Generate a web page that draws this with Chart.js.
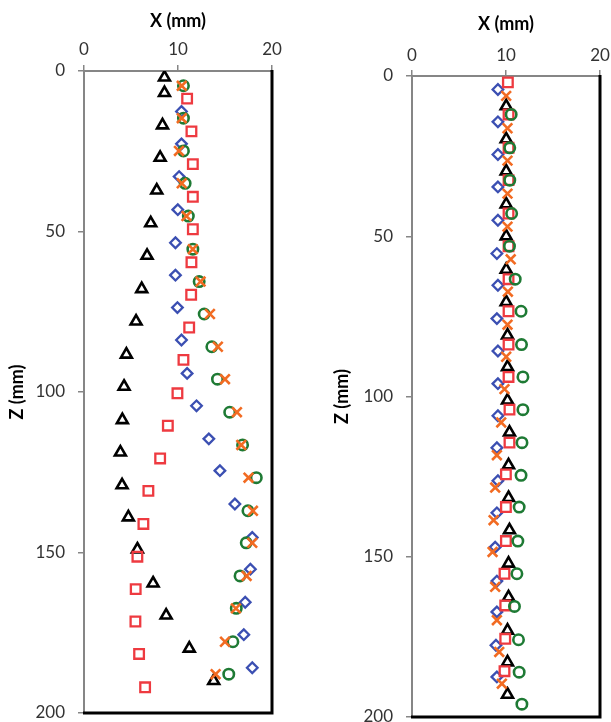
<!DOCTYPE html>
<html>
<head>
<meta charset="utf-8">
<script src="https://cdn.jsdelivr.net/npm/chart.js@4/dist/chart.umd.min.js"></script>
<style>
  html, body { margin: 0; padding: 0; background: #ffffff; overflow: hidden; }
  .panel { position: absolute; top: 0; height: 722px; }
  #leftWrap { left: 0; width: 300px; }
  #rightWrap { left: 320px; width: 291px; }
</style>
</head>
<body>
<div id="leftWrap" class="panel"><canvas id="leftChart"></canvas></div>
<div id="rightWrap" class="panel"><canvas id="rightChart"></canvas></div>
<script>
// ---------- Axis ticks ----------
const xTicks = [0, 10, 20];
const zTicks = [0, 50, 100, 150, 200];
const xTitle = 'X (mm)';
const zTitle = 'Z (mm)';

// ---------- Left panel data (X values, Z depths) ----------
const leftTriZ = [2, 6.8, 16.9, 27, 37.2, 47.4, 57.5, 67.9, 78, 88.3, 98.3, 108.7, 118.8, 129, 139, 149, 159.6, 169.6, 179.9, 190];
const leftTriX = [8.56, 8.56, 8.35, 8.1, 7.74, 7.1, 6.71, 6.14, 5.54, 4.51, 4.26, 4.08, 3.87, 4.05, 4.72, 5.68, 7.35, 8.74, 11.2, 13.8];

const leftDiaZ = [12.6, 22.7, 32.9, 43.2, 53.5, 63.6, 73.7, 83.8, 94.2, 104.3, 114.6, 124.5, 134.9, 145.3, 155.2, 165.5, 175.6, 185.9];
const leftDiaX = [10.37, 10.37, 10.12, 9.98, 9.73, 9.73, 9.94, 10.37, 10.97, 11.97, 13.28, 14.46, 16.05, 17.9, 17.7, 17.15, 17.0, 17.9];

const leftCirZ = [4.6, 14.7, 24.9, 35, 45.2, 55.5, 65.6, 75.7, 85.9, 96, 106.3, 116.5, 126.7, 137, 147, 157.3, 167.4, 177.8, 187.9];
const leftCirX = [10.58, 10.58, 10.58, 10.76, 11.1, 11.58, 12.25, 12.79, 13.6, 14.2, 15.5, 16.87, 18.33, 17.44, 17.26, 16.6, 16.2, 15.84, 15.4];

const leftCroZ = [4.6, 14.7, 24.9, 35, 45.2, 55.5, 65.6, 75.7, 85.9, 96, 106.3, 116.5, 126.7, 137, 147, 157.3, 167.4, 177.8, 187.9];
const leftCroX = [10.4, 10.4, 10.1, 10.4, 10.9, 11.58, 12.4, 13.4, 14.24, 15.0, 16.27, 16.73, 17.5, 17.97, 17.9, 17.3, 16.16, 15.0, 14.0];

const leftSqZ = [8.6, 18.8, 29, 39.2, 49.3, 59.6, 69.7, 79.9, 90, 100.4, 110.5, 120.7, 130.8, 141.1, 151.3, 161.4, 171.5, 181.6, 192];
const leftSqX = [10.97, 11.43, 11.58, 11.58, 11.58, 11.43, 11.4, 11.19, 10.58, 9.94, 8.92, 8.1, 6.85, 6.32, 5.68, 5.5, 5.47, 5.86, 6.5];

// ---------- Right panel data ----------
const rightSqZ = [2, 12, 22.4, 32.5, 42.9, 53.1, 63.4, 73.4, 83.8, 93.9, 104.1, 114.4, 124.3, 134.5, 145.1, 155.3, 165.2, 175.6, 185.7];
const rightSqX = [10.2, 10.27, 10.27, 10.27, 10.27, 10.27, 10.27, 10.27, 10.27, 10.27, 10.37, 10.37, 9.99, 9.99, 9.99, 9.84, 9.92, 9.92, 9.84];

const rightCirZ = [12, 22.4, 32.5, 42.9, 53.1, 63.4, 73.4, 83.8, 93.9, 104.1, 114.4, 124.6, 134.5, 145.1, 155.3, 165.5, 175.9, 186, 196];
const rightCirX = [10.55, 10.4, 10.4, 10.6, 10.37, 10.98, 11.6, 11.65, 11.8, 11.8, 11.7, 11.6, 11.4, 11.26, 11.16, 10.9, 11.33, 11.4, 11.69];

const rightDiaZ = [4.2, 14.3, 24.5, 34.6, 45, 55.4, 65.3, 75.7, 85.8, 96, 106, 116, 126.3, 136.3, 147, 157.6, 167.2, 177.6, 187.5];
const rightDiaX = [9.14, 9.14, 9.14, 9.14, 9.14, 9.03, 9.14, 9.03, 9.14, 9.14, 9.14, 9.03, 9.14, 9.03, 8.85, 9.03, 9.03, 8.93, 9.03];

const rightCroZ = [6.2, 16.3, 26.4, 36.7, 47, 57.2, 67.3, 77.6, 87.6, 97.7, 108.1, 118.3, 128.4, 138.6, 148.5, 159.4, 169.8, 179.7, 189.6];
const rightCroX = [10.02, 10.16, 10.16, 10.16, 10.16, 10.5, 10.2, 10.16, 10.02, 9.84, 9.49, 9.03, 8.85, 8.68, 8.57, 8.85, 9.03, 9.28, 9.56];

const rightTriZ = [9.4, 19.7, 29.7, 40, 50, 60.4, 70.5, 80.9, 90.8, 101.2, 111.2, 121.4, 131.6, 141.7, 152.1, 162.6, 173, 182.9, 193];
const rightTriX = [10.02, 10.02, 10.02, 10.02, 10.02, 10.02, 10.02, 10.16, 10.16, 10.16, 10.37, 10.27, 10.27, 10.37, 10.27, 10.27, 10.16, 10.16, 10.16];

// ---------- helpers ----------
function pts(xs, zs) { return xs.map((x, i) => ({ x: x, y: zs[i] })); }

const styles = {
  tri: { pointStyle: 'triangle', borderColor: '#000000', radius: 6.3, borderWidth: 2.6 },
  dia: { pointStyle: 'rectRot', borderColor: '#3B4FB2', radius: 5.3, borderWidth: 2.3 },
  cir: { pointStyle: 'circle', borderColor: '#1E7A34', radius: 5.2, borderWidth: 2.6 },
  cro: { pointStyle: 'crossRot', borderColor: '#F26B22', radius: 6.8, borderWidth: 2.6 },
  sq:  { pointStyle: 'rect', borderColor: '#EE3A40', radius: 6.8, borderWidth: 2.3 }
};

function ds(key, xs, zs, order) {
  const s = styles[key];
  return {
    data: pts(xs, zs),
    showLine: false,
    pointStyle: s.pointStyle,
    pointRadius: s.radius,
    pointHoverRadius: s.radius,
    pointBorderColor: s.borderColor,
    pointBackgroundColor: 'rgba(0,0,0,0)',
    pointBorderWidth: s.borderWidth,
    order: order
  };
}

const framePlugin = {
  id: 'frame',
  afterDraw(chart) {
    const { ctx, chartArea: a } = chart;
    ctx.save();
    ctx.strokeStyle = '#000000';
    ctx.lineWidth = 3;
    ctx.beginPath();
    ctx.moveTo(a.right, a.top - 1);
    ctx.lineTo(a.right, a.bottom);
    ctx.lineTo(a.left - 1, a.bottom);
    ctx.stroke();
    ctx.restore();
  }
};

function makeChart(id, datasets, cfg) {
  return new Chart(document.getElementById(id), {
    type: 'scatter',
    data: { datasets: datasets },
    plugins: [framePlugin],
    options: {
      responsive: true,
      maintainAspectRatio: false,
      animation: false,
      events: [],
      layout: { autoPadding: false, padding: { left: 0, top: 0, right: cfg.padRight, bottom: cfg.padBottom } },
      plugins: { legend: { display: false }, tooltip: { enabled: false } },
      scales: {
        x: {
          type: 'linear',
          position: 'top',
          min: 0, max: 20,
          afterBuildTicks: (s) => { s.ticks = xTicks.map(v => ({ value: v })); },
          ticks: { color: '#333333', font: { family: 'Lato', size: 17 }, padding: cfg.xTickPad, maxRotation: 0 },
          grid: { drawOnChartArea: false, drawTicks: true, tickLength: 6, color: '#868686', lineWidth: 1.5 },
          border: { display: true, color: '#868686', width: 2 },
          title: { display: true, text: xTitle, color: '#000000', font: { family: 'Lato', size: 18, weight: 'bold' }, padding: { top: cfg.xTitlePad, bottom: 0 } },
          afterFit: (s) => { s.height = cfg.xHeight; s.paddingLeft = 0; s.paddingRight = 0; }
        },
        y: {
          type: 'linear',
          position: 'left',
          reverse: true,
          min: 0, max: 200,
          afterBuildTicks: (s) => { s.ticks = zTicks.map(v => ({ value: v })); },
          ticks: { color: '#333333', font: { family: 'Lato', size: 17 }, padding: 13 },
          grid: { drawOnChartArea: false, drawTicks: true, tickLength: 6, color: '#868686', lineWidth: 1.5 },
          border: { display: true, color: '#868686', width: 2 },
          title: { display: true, text: zTitle, color: '#000000', font: { family: 'Lato', size: 18, weight: 'bold' }, padding: { top: cfg.yTitlePad, bottom: 0 } },
          afterFit: (s) => { s.width = cfg.yWidth; s.paddingTop = 0; s.paddingBottom = 0; }
        }
      }
    }
  });
}

makeChart('leftChart', [
  ds('cro', leftCroX, leftCroZ, 1),
  ds('sq', leftSqX, leftSqZ, 2),
  ds('cir', leftCirX, leftCirZ, 3),
  ds('dia', leftDiaX, leftDiaZ, 4),
  ds('tri', leftTriX, leftTriZ, 5)
], { padRight: 28, padBottom: 9, xHeight: 71, yWidth: 84, xTitlePad: 10, yTitlePad: 6, xTickPad: 5 });

makeChart('rightChart', [
  ds('cro', rightCroX, rightCroZ, 1),
  ds('cir', rightCirX, rightCirZ, 2),
  ds('sq', rightSqX, rightSqZ, 3),
  ds('tri', rightTriX, rightTriZ, 4),
  ds('dia', rightDiaX, rightDiaZ, 5)
], { padRight: 11, padBottom: 5, xHeight: 76, yWidth: 92, xTitlePad: 13, yTitlePad: 11, xTickPad: 4 });
</script>
</body>
</html>
